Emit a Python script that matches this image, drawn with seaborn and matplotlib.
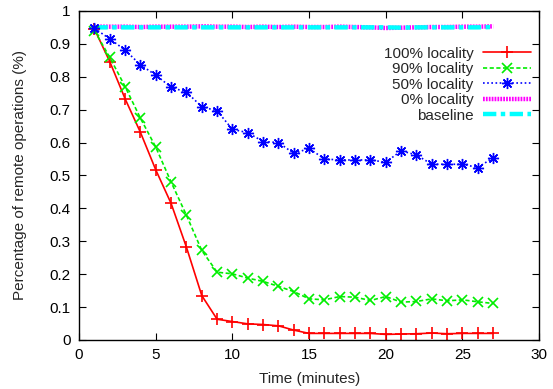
import numpy as np
import pandas as pd
import matplotlib
matplotlib.use("Agg")
import matplotlib.pyplot as plt
import seaborn as sns

# time in minutes
minutes = list(range(1, 28))

loc100 = [0.945, 0.846, 0.733, 0.631, 0.517, 0.415, 0.282, 0.135, 0.063, 0.056,
          0.049, 0.047, 0.043, 0.030, 0.020, 0.020, 0.020, 0.020, 0.020, 0.017,
          0.018, 0.019, 0.021, 0.019, 0.020, 0.020, 0.020]
loc90 = [0.940, 0.859, 0.770, 0.674, 0.586, 0.480, 0.379, 0.272, 0.206, 0.201,
         0.188, 0.178, 0.163, 0.147, 0.125, 0.122, 0.132, 0.130, 0.120, 0.132,
         0.115, 0.117, 0.125, 0.119, 0.122, 0.116, 0.111]
loc50 = [0.947, 0.915, 0.881, 0.836, 0.805, 0.768, 0.753, 0.709, 0.696, 0.640,
         0.630, 0.603, 0.600, 0.567, 0.582, 0.550, 0.547, 0.547, 0.547, 0.540,
         0.575, 0.562, 0.534, 0.534, 0.534, 0.524, 0.554]
loc0 = [0.952, 0.952, 0.952, 0.951, 0.952, 0.952, 0.952, 0.953, 0.952, 0.952,
        0.951, 0.952, 0.951, 0.952, 0.951, 0.951, 0.952, 0.951, 0.950, 0.948,
        0.949, 0.950, 0.951, 0.951, 0.952, 0.952, 0.953]
baseline = [0.950, 0.950, 0.950, 0.950, 0.950, 0.950, 0.950, 0.950, 0.950, 0.950,
            0.950, 0.950, 0.950, 0.950, 0.950, 0.950, 0.950, 0.950, 0.950, 0.950,
            0.949, 0.950, 0.950, 0.950, 0.950, 0.950, 0.951]

labels = ["100% locality", "90% locality", "50% locality", "0% locality", "baseline"]

df = pd.DataFrame({"minutes": minutes, "100": loc100, "90": loc90, "50": loc50,
                   "0": loc0, "base": baseline})

sns.set_style("ticks")
plt.rcParams["font.family"] = ["Liberation Sans", "DejaVu Sans"]
fs = 11

fig = plt.figure(figsize=(5.53, 3.89), dpi=100)
ax = fig.add_axes([0.143, 0.126, 0.832, 0.846])

# 0% and baseline first so they sit underneath
sns.lineplot(data=df, x="minutes", y="0", ax=ax, color="#ff00ff", lw=3.2,
             linestyle=(0, (0.4, 0.25)), label=labels[3])
sns.lineplot(data=df, x="minutes", y="base", ax=ax, color="#00ffff", lw=3.2,
             linestyle=(0, (3, 1, 1, 1)), label=labels[4])
sns.lineplot(data=df, x="minutes", y="100", ax=ax, color="#ff0000", lw=1.2,
             marker="+", markersize=8, markeredgewidth=1.2,
             markeredgecolor="#ff0000", label=labels[0])
sns.lineplot(data=df, x="minutes", y="90", ax=ax, color="#00ee00", lw=1.2,
             linestyle=(0, (2.5, 1.5)), marker="x", markersize=7,
             markeredgewidth=1.2, markeredgecolor="#00ee00", label=labels[1])
sns.lineplot(data=df, x="minutes", y="50", ax=ax, color="#0000ff", lw=1.2,
             linestyle=(0, (1, 1.5)), marker=(8, 2, 0), markersize=8,
             markeredgewidth=1.0, markeredgecolor="#0000ff", label=labels[2])

ax.set_xlim(0, 30)
ax.set_ylim(0, 1)
ax.set_xticks(np.arange(0, 31, 5))
ax.set_yticks(np.arange(0, 1.01, 0.1))
ax.set_yticklabels(["0", "0.1", "0.2", "0.3", "0.4", "0.5", "0.6", "0.7", "0.8", "0.9", "1"])
ax.tick_params(direction="in", top=True, right=True, length=5, width=0.8,
               labelsize=fs, colors="black", pad=6)
for s in ax.spines.values():
    s.set_linewidth(1.0)
    s.set_color("black")
    s.set_visible(True)

ax.set_xlabel("Time (minutes)", fontsize=fs, labelpad=7)
ax.set_ylabel("Percentage of remote operations (%)", fontsize=fs, labelpad=16)

h, l = ax.get_legend_handles_labels()
order = [l.index(x) for x in labels]
ax.legend([h[i] for i in order], [l[i] for i in order], loc="upper right",
          bbox_to_anchor=(1.0, 0.917), frameon=False, markerfirst=False,
          fontsize=fs, handlelength=3.1, labelspacing=0.1, borderaxespad=0.15,
          handletextpad=0.65)

fig.savefig("out.png", dpi=100)
